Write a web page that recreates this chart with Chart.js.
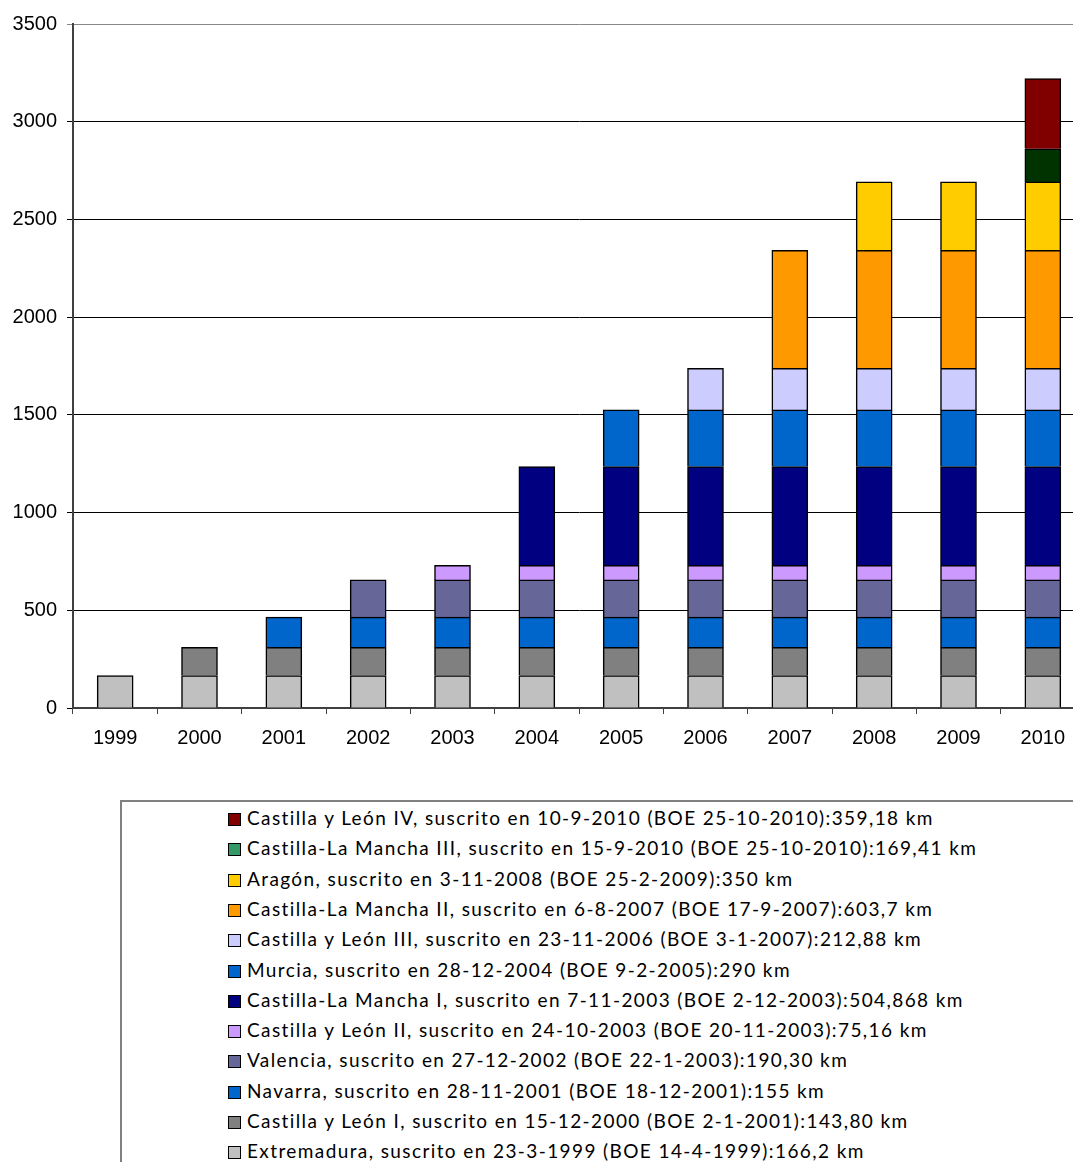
<!DOCTYPE html>
<html>
<head>
<meta charset="utf-8">
<script src="https://cdn.jsdelivr.net/npm/chart.js@4"></script>
<style>
    body { margin: 0; overflow: hidden; background: #fff; width: 1073px; height: 1162px; position: relative; }
    #wrap { position: absolute; left: 0; top: 0; width: 1085px; height: 770px; }
    #legend {
        position: absolute; left: 120px; top: 800px; width: 1000px; height: 400px;
        border-left: 2px solid #808080; border-top: 2px solid #808080;
        font-family: Lato, "Open Sans", sans-serif; font-size: 19px; letter-spacing: 1.4px; color: #000;
    }
    #legend div { position: absolute; left: 106px; height: 30px; line-height: 30px; white-space: nowrap; }
    #legend span.box {
        display: inline-block; width: 11px; height: 11px; border: 1.5px solid #000;
        margin-right: 6px; vertical-align: -1px;
    }
</style>
</head>
<body>
<div id="wrap"><canvas id="myChart" width="1085" height="770"></canvas></div>
<div id="legend"></div>

<script>
const years = ["1999", "2000", "2001", "2002", "2003", "2004", "2005", "2006", "2007", "2008", "2009", "2010"];

// km por convenio, acumulado desde el año en que se suscribe
const extremadura = [166.2, 166.2, 166.2, 166.2, 166.2, 166.2, 166.2, 166.2, 166.2, 166.2, 166.2, 166.2];
const cylI        = [0, 143.8, 143.8, 143.8, 143.8, 143.8, 143.8, 143.8, 143.8, 143.8, 143.8, 143.8];
const navarra     = [0, 0, 155, 155, 155, 155, 155, 155, 155, 155, 155, 155];
const valencia    = [0, 0, 0, 190.3, 190.3, 190.3, 190.3, 190.3, 190.3, 190.3, 190.3, 190.3];
const cylII       = [0, 0, 0, 0, 75.16, 75.16, 75.16, 75.16, 75.16, 75.16, 75.16, 75.16];
const clmI        = [0, 0, 0, 0, 0, 504.868, 504.868, 504.868, 504.868, 504.868, 504.868, 504.868];
const murcia      = [0, 0, 0, 0, 0, 0, 290, 290, 290, 290, 290, 290];
const cylIII      = [0, 0, 0, 0, 0, 0, 0, 212.88, 212.88, 212.88, 212.88, 212.88];
const clmII       = [0, 0, 0, 0, 0, 0, 0, 0, 603.7, 603.7, 603.7, 603.7];
const aragon      = [0, 0, 0, 0, 0, 0, 0, 0, 0, 350, 350, 350];
const clmIII      = [0, 0, 0, 0, 0, 0, 0, 0, 0, 0, 0, 169.41];
const cylIV       = [0, 0, 0, 0, 0, 0, 0, 0, 0, 0, 0, 359.18];

const yTicks = [0, 500, 1000, 1500, 2000, 2500, 3000, 3500];

const seriesNames = [
    "Extremadura, suscrito en 23-3-1999 (BOE 14-4-1999):166,2 km",
    "Castilla y León I, suscrito en 15-12-2000 (BOE 2-1-2001):143,80 km",
    "Navarra, suscrito en 28-11-2001 (BOE 18-12-2001):155 km",
    "Valencia, suscrito en 27-12-2002 (BOE 22-1-2003):190,30 km",
    "Castilla y León II, suscrito en 24-10-2003 (BOE 20-11-2003):75,16 km",
    "Castilla-La Mancha I, suscrito en 7-11-2003 (BOE 2-12-2003):504,868 km",
    "Murcia, suscrito en 28-12-2004 (BOE 9-2-2005):290 km",
    "Castilla y León III, suscrito en 23-11-2006 (BOE 3-1-2007):212,88 km",
    "Castilla-La Mancha II, suscrito en 6-8-2007 (BOE 17-9-2007):603,7 km",
    "Aragón, suscrito en 3-11-2008 (BOE 25-2-2009):350 km",
    "Castilla-La Mancha III, suscrito en 15-9-2010 (BOE 25-10-2010):169,41 km",
    "Castilla y León IV, suscrito en 10-9-2010 (BOE 25-10-2010):359,18 km"
];
const seriesData = [extremadura, cylI, navarra, valencia, cylII, clmI, murcia, cylIII, clmII, aragon, clmIII, cylIV];
const barColors = ["#C0C0C0", "#808080", "#0066CC", "#666699", "#CC99FF", "#000080", "#0066CC", "#CCCCFF", "#FF9900", "#FFCC00", "#003300", "#800000"];
const legendColors = ["#C0C0C0", "#808080", "#0066CC", "#666699", "#CC99FF", "#000080", "#0066CC", "#CCCCFF", "#FF9900", "#FFCC00", "#339966", "#800000"];

let datasets = seriesData.map(function (d, i) {
    return {
        label: seriesNames[i],
        data: d.map(v => v === 0 ? null : v),
        backgroundColor: barColors[i],
        borderColor: '#000',
        borderWidth: 1.5,
        barThickness: 36
    };
});

let ctx = document.getElementById('myChart').getContext('2d');
let chart = new Chart(ctx, {
    type: 'bar',
    data: { labels: years, datasets: datasets },
    options: {
        responsive: false,
        animation: false,
        devicePixelRatio: 1,
        layout: { padding: { top: 24, left: 0, right: 0, bottom: 0 } },
        plugins: { legend: { display: false }, tooltip: { enabled: false } },
        scales: {
            x: {
                stacked: true,
                afterFit: function (scale) { scale.height = 62; },
                grid: { drawOnChartArea: false, drawTicks: true, tickLength: 6, color: '#404040', lineWidth: 1 },
                border: { color: '#404040', width: 2 },
                ticks: { color: '#000', padding: 12, font: { family: 'Liberation Sans', size: 20 } }
            },
            y: {
                stacked: true,
                min: 0,
                max: 3500,
                afterFit: function (scale) { scale.width = 73; },
                afterBuildTicks: function (scale) { scale.ticks = yTicks.map(v => ({ value: v })); },
                grid: {
                    color: c => (c.tick && c.tick.value === 3500) ? '#888' : '#000',
                    lineWidth: 1,
                    tickLength: 6,
                    drawTicks: true
                },
                border: { color: '#404040', width: 2 },
                ticks: {
                    color: '#000', padding: 10, font: { family: 'Liberation Sans', size: 20 },
                    callback: v => String(v)
                }
            }
        }
    }
});

// leyenda en orden inverso, como en el original
let legend = document.getElementById('legend');
for (let i = seriesNames.length - 1; i >= 0; i--) {
    let row = document.createElement('div');
    row.style.top = (1 + (seriesNames.length - 1 - i) * 30.3) + 'px';
    row.innerHTML = '<span class="box" style="background:' + legendColors[i] + '"></span>' + seriesNames[i];
    legend.appendChild(row);
}
</script>
</body>
</html>
